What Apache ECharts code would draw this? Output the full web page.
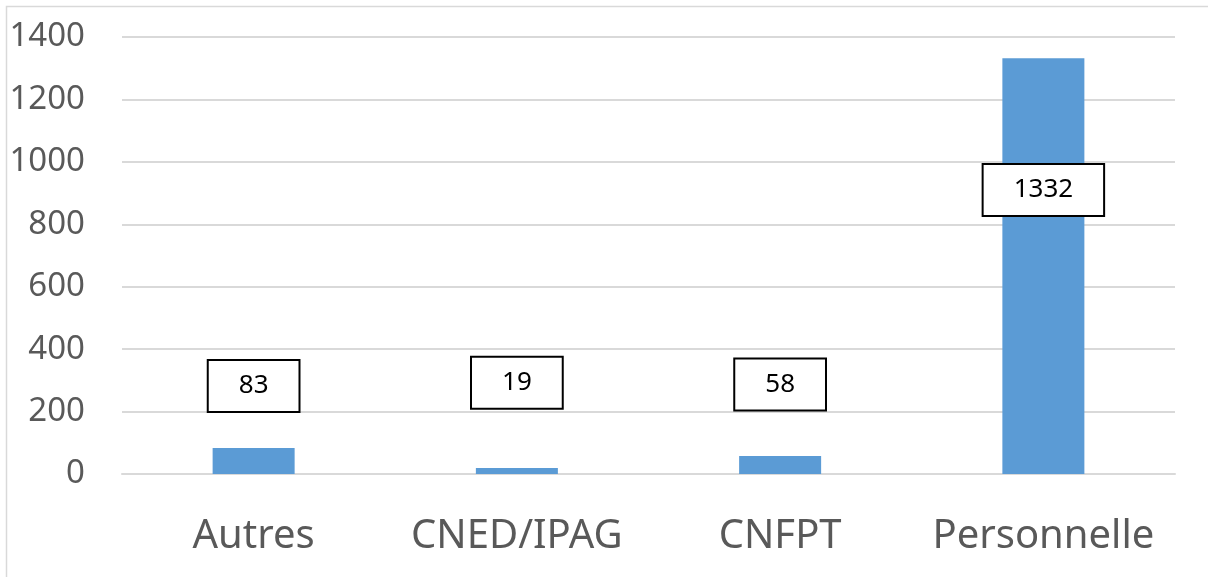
<!DOCTYPE html>
<html>
<head>
<meta charset="utf-8">
<script src="https://cdn.jsdelivr.net/npm/echarts@6/dist/echarts.min.js"></script>
<style>
  html, body { margin: 0; padding: 0; background: #fff; }
  #chart { width: 1208px; height: 577px; }
</style>
</head>
<body>
<div id="chart"></div>
<script>
// data
const categories = ['Autres', 'CNED/IPAG', 'CNFPT', 'Personnelle'];
const counts = [83, 19, 58, 1332];
// where the (hand-moved) data label boxes sit, in axis units
const labelAnchors = [282, 292, 287, 910];

let myChart = echarts.init(document.getElementById('chart'));
let font = '"Noto Sans", "Liberation Sans", sans-serif';

let option = {
    backgroundColor: '#fff',
    animation: false,
    graphic: [{
        type: 'rect',
        shape: { x: 6.5, y: 6.5, width: 1210, height: 580 },
        style: { fill: 'none', stroke: '#d9d9d9', lineWidth: 1.5 }
    }],
    grid: { left: 122, right: 33, top: 37, bottom: 103 },
    xAxis: {
        type: 'category',
        data: categories,
        axisLine: { lineStyle: { color: '#d9d9d9', width: 2 } },
        axisTick: { show: false },
        axisLabel: { interval: 0, fontFamily: font, fontSize: 40, color: '#595959', margin: 43 }
    },
    yAxis: {
        type: 'value',
        min: 0,
        max: 1400,
        interval: 200,
        axisLine: { show: false },
        axisTick: { show: false },
        splitLine: { lineStyle: { color: '#d9d9d9', width: 2 } },
        axisLabel: {
            fontFamily: font, fontSize: 33, color: '#595959', margin: 37,
            formatter: function (v) { return String(v); }
        }
    },
    series: [
        {
            type: 'bar',
            data: counts,
            barWidth: 82,
            itemStyle: { color: '#5b9bd5' }
        },
        {
            // invisible anchors carrying the boxed value labels
            type: 'scatter',
            data: labelAnchors,
            symbol: 'rect',
            symbolSize: 1,
            silent: true,
            z: 5,
            itemStyle: { color: 'rgba(0,0,0,0)', opacity: 1 },
            emphasis: { disabled: true },
            label: {
                show: true,
                position: 'inside',
                formatter: function (p) {
                    return counts[p.dataIndex];
                },
                opacity: 1,
                fontFamily: font,
                fontSize: 26,
                color: '#000',
                textBorderWidth: 0,
                backgroundColor: '#ffffff',
                borderColor: '#000',
                borderWidth: 2,
                padding: [12, 30]
            }
        }
    ]
};
myChart.setOption(option);
</script>
</body>
</html>
